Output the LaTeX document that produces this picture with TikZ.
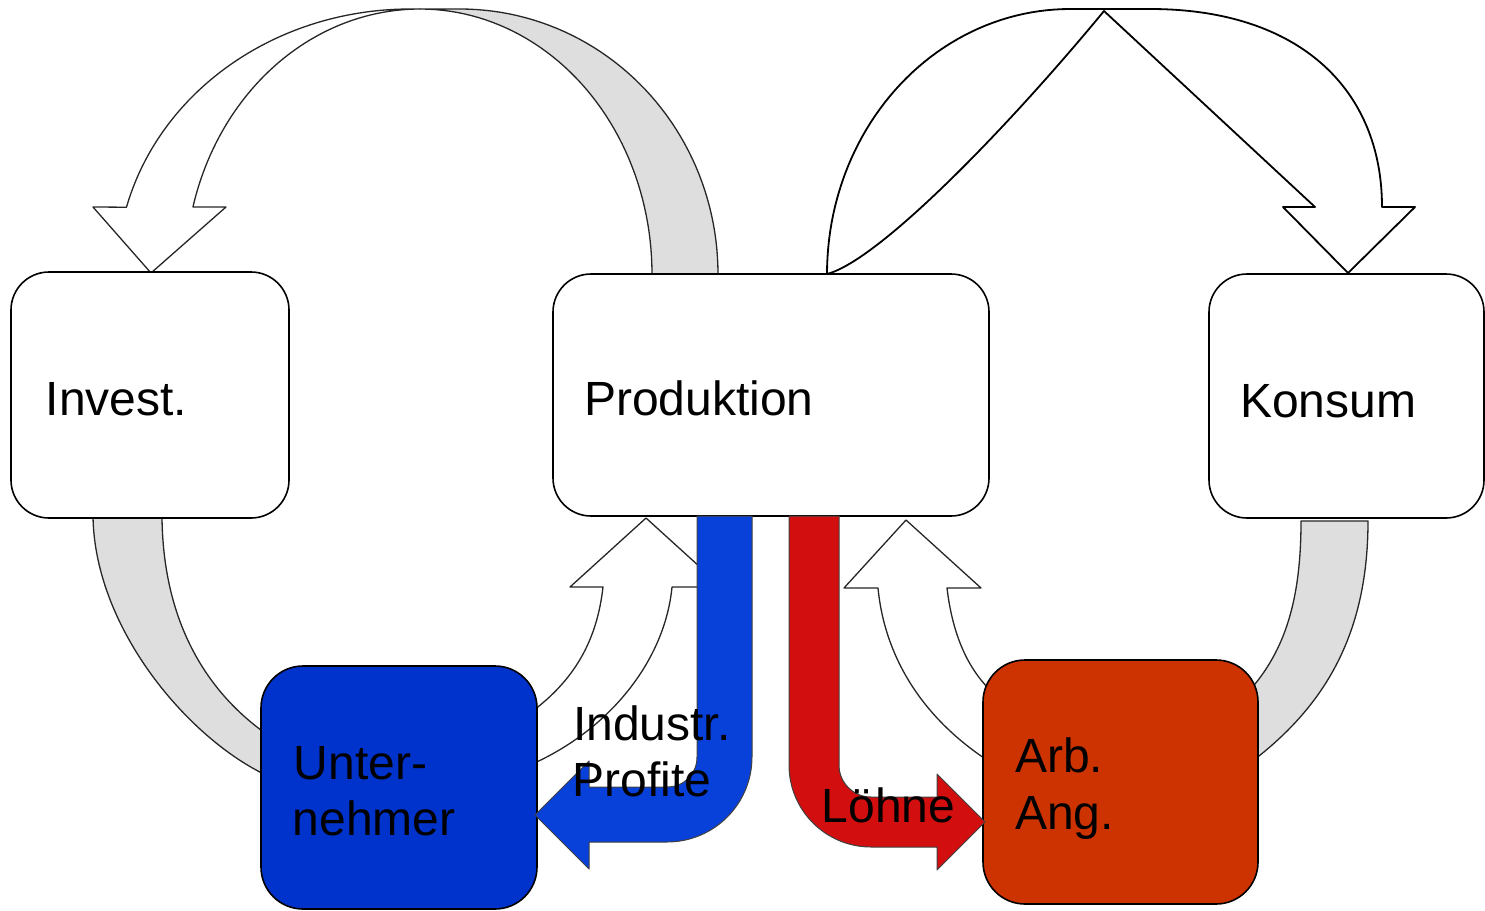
\documentclass[tikz,border=0pt]{standalone}
\usepackage{fontspec}
\setmainfont{Liberation Sans}
\usetikzlibrary{backgrounds}
\definecolor{ublue}{RGB}{0,51,204}
\definecolor{arbred}{RGB}{204,51,0}
\definecolor{flowblue}{RGB}{8,64,218}
\definecolor{flowred}{RGB}{210,14,14}
\definecolor{bandgray}{RGB}{222,222,222}
\begin{document}
\begin{tikzpicture}[x=1pt,y=-1pt,
  box/.style={draw=black, line width=1.6pt, rounded corners=38pt, inner sep=0pt},
  lbl/.style={anchor=base west, inner sep=0pt, font=\fontsize{48}{56}\selectfont},
  bandg/.style={fill=bandgray, draw=black!85, line width=1.3pt, line join=round},
  bandw/.style={fill=white, draw=black!85, line width=1.3pt, line join=round},
  bandtop/.style={fill=white, draw=black, line width=1.8pt, line join=round},
  money/.style={draw=black!75, line width=1pt, line join=round}
]
\useasboundingbox (0,0) rectangle (1485,910);

% boxes
\node[box, fill=white, minimum width=278pt, minimum height=246pt] (invest) at (150,395) {};
\node[box, fill=white, minimum width=436pt, minimum height=242pt] (prod) at (771,395) {};
\node[box, fill=white, minimum width=275pt, minimum height=244pt] (konsum) at (1346.5,396) {};
\node[box, fill=ublue, rounded corners=42pt, minimum width=276pt, minimum height=243pt] (unter) at (399,787.5) {};
\node[box, fill=arbred, rounded corners=42pt, minimum width=275pt, minimum height=244pt] (arb) at (1120.5,782) {};

\begin{scope}[on background layer]
% Produktion -> Invest (top left)
\path[bandw] (420,9) -- (410,9)
  -- plot[domain=90:165.4, samples=50] ({410+293*cos(\x)},{274-265*sin(\x)})
  -- (93,207) -- (151,273) -- (226,207) -- (193,207)
  -- plot[domain=165.35:90, samples=50] ({420+234.7*cos(\x)},{274-265*sin(\x)})
  -- cycle;
\path[bandg] (420,9) -- (460,9)
  -- plot[domain=90:0, samples=50] ({460+258*cos(\x)},{274-265*sin(\x)})
  -- (652,274)
  -- plot[domain=0:90, samples=50] ({420+232*cos(\x)},{274-265*sin(\x)})
  -- cycle;
% Produktion -> Konsum (top right)
\path[bandtop] (827,274)
  -- plot[domain=180:90, samples=50] ({1070+243*cos(\x)},{274-265*sin(\x)})
  -- (1150,9) .. controls (1300,9) and (1382,90) .. (1382,207)
  -- (1415,207) -- (1348,273) -- (1283,207) -- (1315,207) -- (1104,11)
  .. controls (1010,125) and (880,260) .. (827,274) -- cycle;
% Invest -> Unternehmer
\path[bandg] (93,517) -- (162,517) .. controls (163,620) and (205,690) .. (265,733)
  -- (268,776) .. controls (190,740) and (95,630) .. (93,517) -- cycle;
% Konsum -> Arb. Ang.
\path[bandg] (1301,521) -- (1368,521) .. controls (1368,640) and (1320,710) .. (1250,763)
  -- (1250,690) .. controls (1285,650) and (1301,600) .. (1301,521) -- cycle;
% Unternehmer -> Produktion
\path[bandw] (646,518) -- (722,587) -- (672,587) .. controls (665,660) and (610,730) .. (530,765)
  -- (530,713) .. controls (575,680) and (597,640) .. (603,587) -- (570,587) -- cycle;
% Arb. Ang. -> Produktion
\path[bandw] (906,520) -- (981,588) -- (947,588) .. controls (952,630) and (965,665) .. (990,690)
  -- (990,762) .. controls (925,720) and (885,660) .. (878,588) -- (844,588) -- cycle;
\end{scope}

% Industr. Profite (blue)
\path[money, fill=flowblue] (697,516) -- (752,516) -- (752,757)
  .. controls (752,804) and (714,842) .. (667,842) -- (589,842) -- (589,869)
  -- (535,815) -- (589,761) -- (589,787) -- (667,787)
  .. controls (684,787) and (697,774) .. (697,757) -- cycle;
% Loehne (red)
\path[money, fill=flowred] (789,516) -- (839,516) -- (839,765)
  .. controls (839,782.7) and (853.3,797) .. (871,797) -- (937,797) -- (937,774)
  -- (985,822) -- (937,870) -- (937,847) -- (871,847)
  .. controls (825.7,847) and (789,810.3) .. (789,765) -- cycle;

% labels
\node[lbl] (tinvest) at (45.5,415) {Invest.};
\node[lbl] (tprod) at (584,415) {Produktion};
\node[lbl] (tkonsum) at (1240,417) {Konsum};
\node[lbl] (tunter1) at (293.5,779) {Unter-};
\node[lbl] (tunter2) at (292.5,835) {nehmer};
\node[lbl] (tarb1) at (1015,772) {Arb.};
\node[lbl] (tarb2) at (1015,829) {Ang.};
\node[lbl] (tind1) at (573,740) {Industr.};
\node[lbl] (tind2) at (572.5,796) {Profite};
\node[lbl] (tlohn) at (821.5,822) {Löhne};
\end{tikzpicture}
\end{document}
